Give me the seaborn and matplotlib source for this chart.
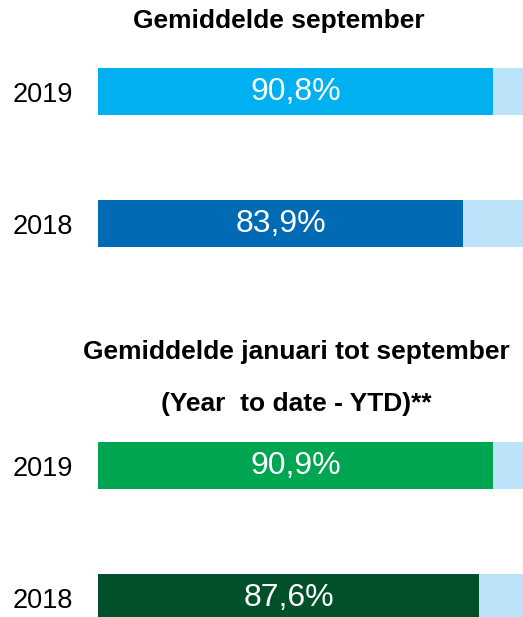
import matplotlib
matplotlib.use("Agg")
import matplotlib.pyplot as plt
import seaborn as sns
import pandas as pd

# ---- data ----
years = ["2019", "2018"]
sept_values = [90.8, 83.9]
ytd_values = [90.9, 87.6]
totals = [100, 100]
title_top = "Gemiddelde september"
title_bottom_1 = "Gemiddelde januari tot september"
title_bottom_2 = "(Year  to date - YTD)**"

# ---- styles ----
light_blue = "#BDE3FA"
top_colors = ["#00B0F0", "#006AB4"]
bottom_colors = ["#00A551", "#00502A"]

sns.set_theme(style="white")
plt.rcParams["font.family"] = ["Liberation Sans", "DejaVu Sans"]

W, H = 523, 617
fig = plt.figure(figsize=(W / 100, H / 100), dpi=100)
fig.patch.set_facecolor("white")

bar_w = 47 / 132
left = 98 / W
width = 435 / W
ax_h = 264 / H


def make_panel(ax, values, colors):
    df = pd.DataFrame({"jaar": years, "waarde": values, "totaal": totals})
    sns.barplot(data=df, y="jaar", x="totaal", color=light_blue, width=bar_w,
                saturation=1, errorbar=None, linewidth=0, ax=ax)
    sns.barplot(data=df, y="jaar", x="waarde", hue="jaar", palette=colors,
                width=bar_w, dodge=False, saturation=1, errorbar=None,
                linewidth=0, legend=False, ax=ax)
    for cont, v in zip(ax.containers[1:], values):
        ax.bar_label(cont, labels=[f"{v:.1f}%".replace(".", ",")],
                     label_type="center", color="white", fontsize=23)
    ax.set_xlim(0, 100)
    ax.set_ylim(1.5, -0.5)
    ax.set_xlabel("")
    ax.set_ylabel("")
    ax.set_xticks([])
    ax.tick_params(axis="y", length=0, pad=18, labelsize=19.5, labelcolor="black")
    for s in ax.spines.values():
        s.set_visible(False)
    ax.set_facecolor("none")


ax_top = fig.add_axes([left, (H - 289.5) / H, width, ax_h])
make_panel(ax_top, sept_values, top_colors)

ax_bot = fig.add_axes([left, (H - 663.5) / H, width, ax_h])
make_panel(ax_bot, ytd_values, bottom_colors)

fig.text(279 / W, 1 - 21 / H, title_top, ha="center", va="center",
         fontsize=19, fontweight="bold", color="black")
fig.text(296 / W, 1 - 352 / H, title_bottom_1, ha="center", va="center",
         fontsize=19, fontweight="bold", color="black")
fig.text(296 / W, 1 - 404 / H, title_bottom_2, ha="center", va="center",
         fontsize=19, fontweight="bold", color="black")

fig.savefig("out.png", dpi=100)
